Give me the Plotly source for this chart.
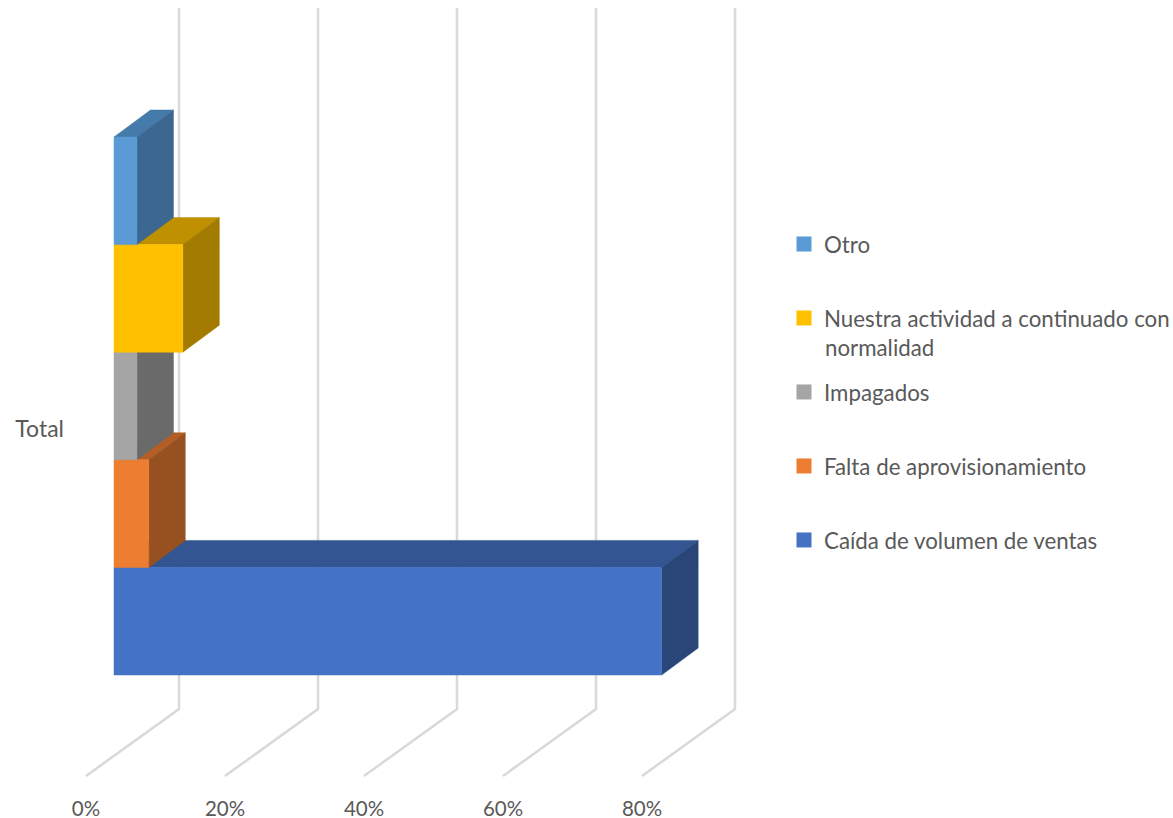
import plotly.graph_objects as go

series = ["Caída de volumen de ventas", "Falta de aprovisionamiento", "Impagados",
          "Nuestra actividad a continuado con", "Otro"]
wrapped_line = "normalidad"
values = [78.8, 5.0, 3.3, 9.9, 3.3]
front_colors = ["#4472C4", "#ED7D31", "#A5A5A5", "#FFC000", "#5B9BD5"]
top_colors = ["#335693", "#B25E25", "#7C7C7C", "#BF9000", "#447BAA"]
side_colors = ["#2A4678", "#97501F", "#6A6A6A", "#A37B00", "#3B6790"]
tick_values = [0, 20, 40, 60, 80]
category = "Total"

PX_PER_PCT = 6.95
PX_PER_BAR = 107.6
ORIGIN_X, ORIGIN_Y = 114, 675
L, R, T, B = 65, 780, 0, 794
W, H = 1173, 818

depth_x = 36.5 / PX_PER_PCT
depth_y = 27 / PX_PER_BAR
wall_x = 65 / PX_PER_PCT
wall_y = -34 / PX_PER_BAR
floor_x = -28 / PX_PER_PCT
floor_y = -101 / PX_PER_BAR
wall_top = (ORIGIN_Y - 8) / PX_PER_BAR
cat_y = (ORIGIN_Y - 429) / PX_PER_BAR

fig = go.Figure()

for v in tick_values:
    fig.add_trace(go.Scatter(
        x=[v + floor_x, v + wall_x, v + wall_x], y=[floor_y, wall_y, wall_top],
        mode="lines", line=dict(color="#D9D9D9", width=2.5), showlegend=False, hoverinfo="skip"))


def face(xs, ys, color):
    fig.add_trace(go.Scatter(
        x=xs, y=ys, mode="lines", fill="toself", fillcolor=color,
        line=dict(color=color, width=0.5), showlegend=False, hoverinfo="skip"))


for i, v in enumerate(values):
    y0, y1 = i, i + 1
    face([0, v, v + depth_x, depth_x, 0], [y1, y1, y1 + depth_y, y1 + depth_y, y1], top_colors[i])
    face([v, v + depth_x, v + depth_x, v, v], [y0, y0 + depth_y, y1 + depth_y, y1, y0], side_colors[i])
    face([0, v, v, 0, 0], [y0, y0, y1, y1, y0], front_colors[i])

for i in reversed(range(len(series))):
    fig.add_trace(go.Scatter(
        x=[None], y=[None], name=series[i], mode="markers", legendgroup=f"g{i}",
        marker=dict(symbol="square", size=15, color=front_colors[i])))

fig.update_layout(
    width=W, height=H, autosize=False,
    margin=dict(l=L, r=W - R, t=T, b=H - B, pad=0, autoexpand=False),
    paper_bgcolor="white", plot_bgcolor="white",
    font=dict(family="Lato", size=22.3, color="#595959"),
    xaxis=dict(range=[(L - ORIGIN_X) / PX_PER_PCT, (R - ORIGIN_X) / PX_PER_PCT],
               tickvals=[v + floor_x for v in tick_values],
               ticktext=[f"{v}%" for v in tick_values], tickfont=dict(size=20.5),
               showgrid=False, zeroline=False, showline=False, ticks="",
               automargin=False, fixedrange=True),
    yaxis=dict(range=[(ORIGIN_Y - B) / PX_PER_BAR, (ORIGIN_Y - T) / PX_PER_BAR],
               tickvals=[cat_y], ticktext=[category], tickfont=dict(size=23),
               showgrid=False, zeroline=False, showline=False, ticks="",
               automargin=False, fixedrange=True),
    legend=dict(x=(784 - L) / (R - L), xanchor="left", y=1 - 223 / B, yanchor="top",
                tracegroupgap=42, itemclick=False, itemdoubleclick=False,
                bgcolor="rgba(0,0,0,0)"),
    annotations=[dict(text=wrapped_line, xref="paper", yref="paper", xanchor="left", yanchor="middle",
                      x=(824 - L) / (R - L), y=1 - 348 / B, showarrow=False,
                      align="left", borderpad=0, font=dict(size=22.3))],
)

fig.write_html("out.html", config={"displayModeBar": False},
               post_script="document.body.style.margin='0';")
